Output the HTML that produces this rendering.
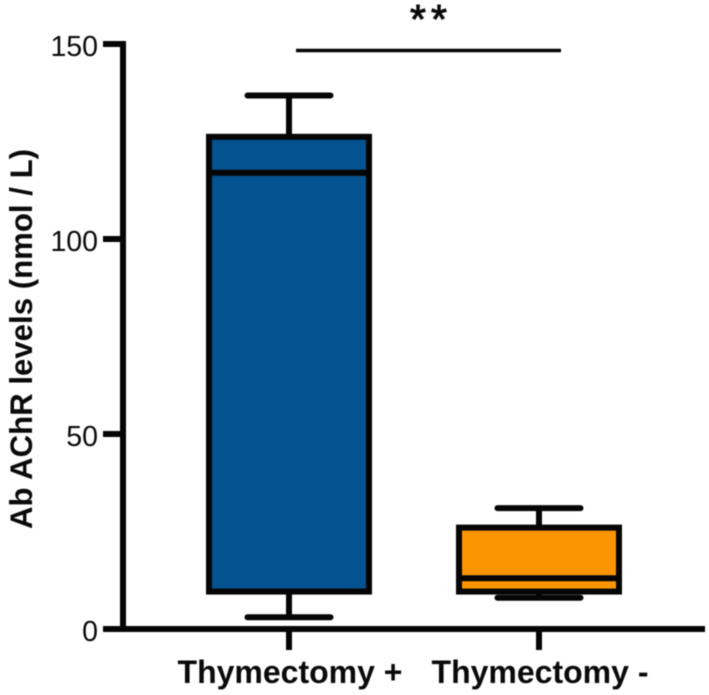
<!DOCTYPE html>
<html>
<head>
<meta charset="utf-8">
<style>
html,body{margin:0;padding:0;background:#fff;width:709px;height:695px;overflow:hidden}
svg{display:block;filter:blur(0.5px)}
text{font-family:"Liberation Sans",Arial,sans-serif;fill:#0a0a0a}
</style>
</head>
<body>
<svg id="chart" width="709" height="695" viewBox="0 0 709 695" xmlns="http://www.w3.org/2000/svg"></svg>
<script>
const categories = ['Thymectomy +', 'Thymectomy -'];
const whiskerLow = [3, 8];
const q1 = [9.6, 9.6];
const medians = [117, 13];
const q3 = [126.2, 26];
const whiskerHigh = [136.8, 31];
const fills = ['#04528f', '#fd9502'];
const yTicks = [0, 50, 100, 150];
const significance = '**';

const svg = document.getElementById('chart');
const NS = 'http://www.w3.org/2000/svg';
const yScale = v => 629 - v * 3.9;
const xScale = i => 289 + i * 250;
const axisX = 123;
const boxHalf = 80;
const capHalf = 41.5;

function add(parent, tag, attrs) {
  const el = document.createElementNS(NS, tag);
  for (const k in attrs) el.setAttribute(k, attrs[k]);
  parent.appendChild(el);
  return el;
}
function line(parent, x1, y1, x2, y2, w, cap) {
  return add(parent, 'line', {x1, y1, x2, y2, stroke: '#050505', 'stroke-width': w, 'stroke-linecap': cap || 'butt'});
}

// y axis
const yAxis = line(svg, axisX, yScale(150) - 3, axisX, yScale(0) + 3, 6);



yTicks.forEach(t => {
  const tick = line(svg, 103, yScale(t), axisX, yScale(t), 6);
  
  
  const label = add(svg, 'text', {x: 98, y: yScale(t) + 12, 'text-anchor': 'end', 'font-size': 28.5});
  label.textContent = t;
  
  
});

// x axis
const xAxis = line(svg, 103, yScale(0), 705, yScale(0), 6);



categories.forEach((c, i) => {
  const x = xScale(i);
  const tick = line(svg, x, yScale(0), x, 650, 6);
  
  

  const g = add(svg, 'g', {});
  
  

  const wu = line(g, x, yScale(q3[i]), x, yScale(whiskerHigh[i]), 6);
  
  
  const cu = line(g, x - capHalf, yScale(whiskerHigh[i]), x + capHalf, yScale(whiskerHigh[i]), 6, 'round');
  
  
  const wl = line(g, x, yScale(q1[i]), x, yScale(whiskerLow[i]), 6);
  
  
  const cl = line(g, x - capHalf, yScale(whiskerLow[i]), x + capHalf, yScale(whiskerLow[i]), 6, 'round');
  
  

  const rect = add(g, 'rect', {
    x: x - boxHalf, y: yScale(q3[i]),
    width: boxHalf * 2, height: yScale(q1[i]) - yScale(q3[i]),
    fill: fills[i], stroke: '#050505', 'stroke-width': 6
  });
  
  

  const m = line(g, x - boxHalf, yScale(medians[i]), x + boxHalf, yScale(medians[i]), 6);
  
  

  const label = add(svg, 'text', {x: x + 1, y: 683, 'text-anchor': 'middle', 'font-size': 32, 'font-weight': 'bold'});
  label.textContent = c;
  
  
});

// significance
const bar = line(svg, 296, 50.5, 561, 50.5, 3.5);


const stars = add(svg, 'text', {x: 431, y: 33, 'text-anchor': 'middle', 'font-size': 41, 'letter-spacing': 5, stroke: '#0a0a0a', 'stroke-width': 1});
stars.textContent = significance;



// y title
const title = add(svg, 'text', {x: 0, y: 0, transform: 'translate(32,339) rotate(-90)', 'text-anchor': 'middle', 'font-size': 31.2, 'font-weight': 'bold'});
title.textContent = 'Ab AChR levels (nmol / L)';


</script>
</body>
</html>
